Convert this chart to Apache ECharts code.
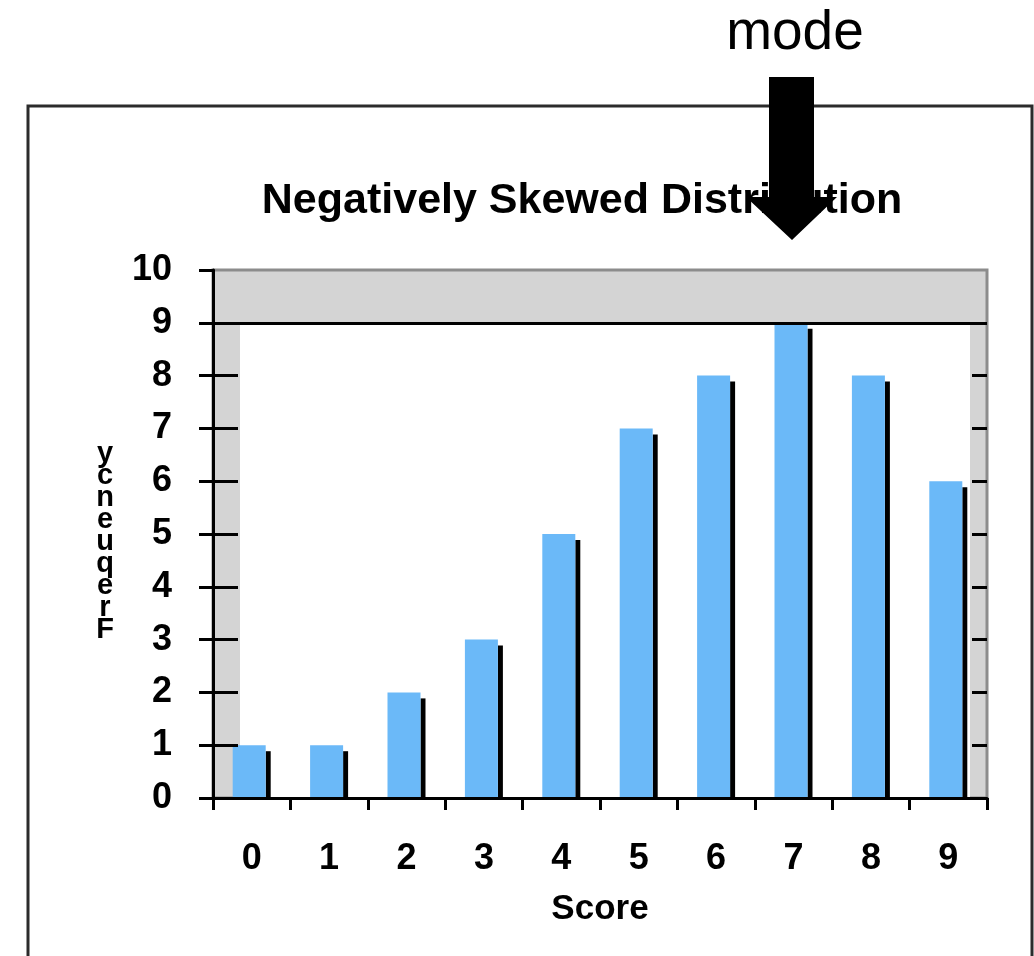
<!DOCTYPE html>
<html>
<head>
<meta charset="utf-8">
<script src="https://cdn.jsdelivr.net/npm/echarts@6/dist/echarts.min.js"></script>
<style>
html,body{margin:0;padding:0;background:#fff;}
#chart{width:1034px;height:956px;}
</style>
</head>
<body>
<div id="chart"></div>
<script>
// ---- data ----
const categories = ['0','1','2','3','4','5','6','7','8','9'];
const frequencies = [1, 1, 2, 3, 5, 7, 8, 9, 8, 6];
const yTicks = [0,1,2,3,4,5,6,7,8,9,10];
const sideTicks = [1,2,3,4,5,6,7,8];
const wallTop = 9;
const titleText = 'Negatively Skewed Distribution';
const xName = 'Score';
const yName = 'Frequency';
const annotationText = 'mode';

const FONT = "'Liberation Sans', Arial, Helvetica, sans-serif";
const BLUE = '#6BB9F8';
const GRAY = '#D4D4D4';

const chart = echarts.init(document.getElementById('chart'), null, {renderer: 'canvas'});

const barData = frequencies.map((v, i) => [i, v]);

const option = {
  animation: false,
  backgroundColor: '#ffffff',
  grid: {
    left: 213, right: 47, top: 270, bottom: 158,
    show: true, backgroundColor: GRAY, borderColor: '#8c8c8c', borderWidth: 3
  },
  xAxis: {
    type: 'category',
    data: categories,
    boundaryGap: true,
    z: 10,
    name: xName,
    nameLocation: 'middle',
    nameGap: 94,
    nameTextStyle: {fontFamily: FONT, fontSize: 35, fontWeight: 'bold', color: '#000'},
    axisLine: {lineStyle: {color: '#000', width: 3}},
    axisTick: {show: true, length: 12, lineStyle: {color: '#000', width: 3}},
    axisLabel: {fontFamily: FONT, fontSize: 36, fontWeight: 'bold', color: '#000', margin: 43},
    splitLine: {show: false}
  },
  yAxis: [
    {
      type: 'value', min: 0, max: 10, interval: 1, z: 10,
      axisLine: {show: true, lineStyle: {color: '#000', width: 3}},
      axisTick: {show: true, length: 14, lineStyle: {color: '#000', width: 3}},
      axisLabel: {fontFamily: FONT, fontSize: 36, fontWeight: 'bold', color: '#000', margin: 41},
      splitLine: {show: false}
    },
    {
      type: 'value', min: 0, max: 10, interval: 1, position: 'left', z: 9,
      axisLine: {show: false},
      axisTick: {show: true, inside: true, length: 25, customValues: sideTicks, lineStyle: {color: '#000', width: 3}},
      axisLabel: {show: false},
      splitLine: {show: false}
    },
    {
      type: 'value', min: 0, max: 10, interval: 1, position: 'right', z: 9,
      axisLine: {show: false},
      axisTick: {show: true, inside: true, length: 15, customValues: sideTicks, lineStyle: {color: '#000', width: 3}},
      axisLabel: {show: false},
      splitLine: {show: false}
    }
  ],
  series: [
    {
      // back wall of the 3D plot
      type: 'custom',
      z: 1,
      silent: true,
      data: [[0, wallTop]],
      renderItem: function (params, api) {
        const cs = params.coordSys;
        const top = api.coord([0, api.value(1)])[1];
        const base = api.coord([0, 0])[1];
        return {
          type: 'rect',
          shape: {x: cs.x + 27, y: top, width: cs.width - 27 - 17, height: base - top},
          style: {fill: '#ffffff'}
        };
      },
      markLine: {
        silent: true,
        symbol: 'none',
        label: {show: false},
        lineStyle: {color: '#000', width: 3, type: 'solid'},
        data: [{yAxis: wallTop}]
      }
    },
    {
      type: 'custom',
      z: 3,
      data: barData,
      renderItem: function (params, api) {
        const cat = api.value(0);
        const val = api.value(1);
        const topPt = api.coord([cat, val]);
        const basePt = api.coord([cat, 0]);
        const bw = 33, sw = 5, sdy = 6;
        const x0 = topPt[0] - (bw + sw) / 2;
        const h = basePt[1] - topPt[1];
        return {
          type: 'group',
          children: [
            {type: 'rect', shape: {x: x0 + bw, y: topPt[1] + sdy, width: sw, height: h - sdy + 2}, style: {fill: '#000'}},
            {type: 'rect', shape: {x: x0, y: topPt[1], width: bw, height: h}, style: {fill: BLUE}}
          ]
        };
      }
    }
  ],
  graphic: [
    {
      type: 'rect', z: 50, silent: true,
      shape: {x: 28, y: 106, width: 1004, height: 900},
      style: {fill: 'none', stroke: '#2b2b2b', lineWidth: 3}
    },
    {
      type: 'text', z: 60, silent: true,
      x: 582, y: 201,
      style: {text: titleText, font: 'bold 43px ' + FONT, fill: '#000', textAlign: 'center', textVerticalAlign: 'middle'}
    },
    {
      type: 'text', z: 60, silent: true,
      x: 105, y: 542,
      style: {text: yName.split('').reverse().join('\n'), font: 'bold 29px ' + FONT, lineHeight: 22, fill: '#000', textAlign: 'center', textVerticalAlign: 'middle'}
    },
    {
      type: 'text', z: 60, silent: true,
      x: 795, y: 34,
      style: {text: annotationText, font: '55px ' + FONT, fill: '#000', textAlign: 'center', textVerticalAlign: 'middle'}
    },
    {
      type: 'polygon', z: 70, silent: true,
      shape: {points: [[769, 77], [814, 77], [814, 197], [837, 197], [792, 240], [746, 197], [769, 197]]},
      style: {fill: '#000'}
    }
  ]
};

chart.setOption(option);
</script>
</body>
</html>
